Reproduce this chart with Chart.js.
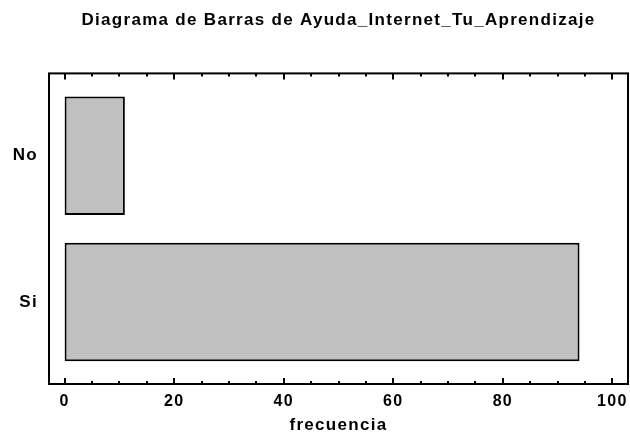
<!DOCTYPE html>
<html>
<head>
<meta charset="utf-8">
<script src="https://cdn.jsdelivr.net/npm/chart.js@4"></script>
<style>
  html, body { margin: 0; padding: 0; background: #fff; }
</style>
</head>
<body>
<canvas id="bar-chart" width="630" height="434"></canvas>
<script>
// Data
const categories = ['No', 'Si'];
const counts = [11, 94];
const xTicks = [0, 20, 40, 60, 80, 100];
const minorStep = 5;

const chartTitle = 'Diagrama de Barras de Ayuda_Internet_Tu_Aprendizaje';
const xTitle = 'frecuencia';

// top category sits highest on the linear index axis
function slotOf(i) {
    return categories.length - 1 - i;
}

// Wider letter spacing, like the original renderer
const spacingPlugin = {
    id: 'spacing',
    beforeDraw: function(chart) {
        chart.ctx.letterSpacing = '1.3px';
    }
};

// Box round the plot plus inward tick marks top and bottom
const framePlugin = {
    id: 'frame',
    afterDatasetsDraw: function(chart) {
        const ctx = chart.ctx;
        const area = chart.chartArea;
        const x = chart.scales.x;
        ctx.save();
        ctx.strokeStyle = '#000';
        ctx.lineWidth = 2;
        ctx.strokeRect(area.left, area.top, area.right - area.left, area.bottom - area.top);
        for (let v = xTicks[0]; v <= xTicks[xTicks.length - 1]; v += minorStep) {
            const px = Math.round(x.getPixelForValue(v));
            const len = xTicks.includes(v) ? 6 : 3;
            ctx.beginPath();
            ctx.moveTo(px, area.bottom);
            ctx.lineTo(px, area.bottom - len);
            ctx.moveTo(px, area.top);
            ctx.lineTo(px, area.top + len);
            ctx.stroke();
        }
        ctx.restore();
    }
};

Chart.defaults.font.family = "'Liberation Sans', Arial, sans-serif";
Chart.defaults.color = '#000';

const canvas = document.getElementById('bar-chart');
new Chart(canvas, {
    type: 'bar',
    data: {
        datasets: [{
            data: categories.map(function(c, i) {
                return { x: counts[i], y: slotOf(i) };
            }),
            backgroundColor: '#c0c0c0',
            borderColor: '#000',
            borderWidth: 2,
            borderSkipped: false,
            barPercentage: 0.81,
            categoryPercentage: 1
        }]
    },
    options: {
        indexAxis: 'y',
        responsive: false,
        animation: false,
        layout: { padding: { left: 0, right: 2, top: 0, bottom: 0 } },
        plugins: {
            legend: { display: false },
            tooltip: { enabled: false },
            title: {
                display: true,
                text: chartTitle,
                fullSize: false,
                font: { size: 17, weight: 'bold' },
                padding: { top: 10, bottom: 43 }
            }
        },
        scales: {
            x: {
                type: 'linear',
                min: -2.85,
                max: 102.85,
                afterBuildTicks: function(scale) {
                    scale.ticks = xTicks.map(function(v) { return { value: v }; });
                },
                afterFit: function(scale) {
                    scale.height = 50;
                    scale.paddingLeft = 0;
                    scale.paddingRight = 0;
                },
                grid: { display: false, drawTicks: false },
                border: { display: false },
                ticks: {
                    font: { size: 16, weight: 'bold' },
                    padding: 8,
                    maxRotation: 0,
                    autoSkip: false
                },
                title: {
                    display: true,
                    text: xTitle,
                    font: { size: 17, weight: 'bold' },
                    padding: { top: 0, bottom: -2 }
                }
            },
            y: {
                type: 'linear',
                offset: false,
                min: -0.56,
                max: 1.563,
                afterBuildTicks: function(scale) {
                    scale.ticks = categories.map(function(c, i) { return { value: slotOf(i) }; });
                },
                afterFit: function(scale) { scale.width = 49; },
                grid: { display: false, drawTicks: false, offset: false },
                border: { display: false },
                ticks: {
                    font: { size: 17, weight: 'bold' },
                    padding: 11,
                    callback: function(value) {
                        return categories[slotOf(value)];
                    }
                }
            }
        }
    },
    plugins: [spacingPlugin, framePlugin]
});
</script>
</body>
</html>
